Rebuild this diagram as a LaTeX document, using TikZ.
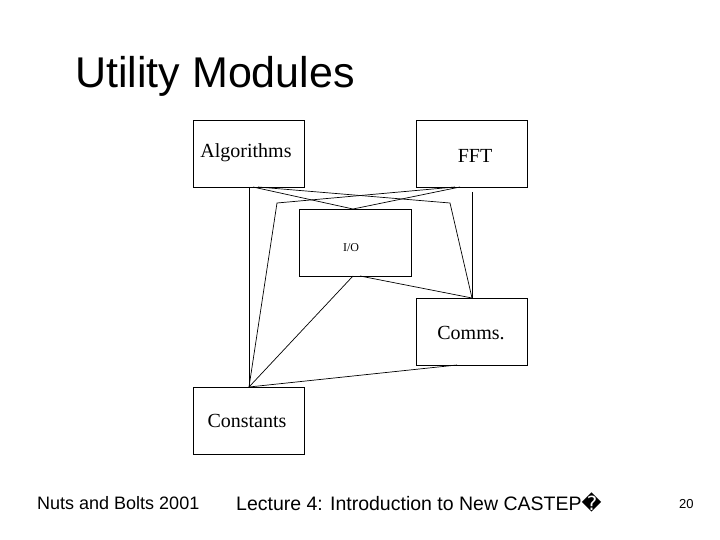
\documentclass[tikz,border=0pt]{standalone}
\usepackage{fontspec}
\setmainfont{Liberation Serif}
\newfontfamily\arial{Liberation Sans}
\newfontfamily\dejavu{DejaVu Sans}
\begin{document}
\begin{tikzpicture}[x=1pt,y=-1pt,
  box/.style={draw,line width=0.8pt},
  ln/.style={line width=0.7pt},
  lab/.style={font=\fontsize{20}{20}\selectfont}]
\useasboundingbox (0,0) rectangle (720,540);
\fill[white] (0,0) rectangle (720,540);
\node[anchor=base west,inner sep=0pt,font=\arial\fontsize{43}{43}\selectfont] (title) at (75,88) {Utility Modules};
\draw[box] (193,120) rectangle (304,187);
\draw[box] (416,120) rectangle (527,187);
\draw[box] (299,209) rectangle (411,276);
\draw[box] (416,298) rectangle (527,365);
\draw[box] (193,387) rectangle (304,454);
\node[lab] (alg) at (246,153) {Algorithms};
\node[lab] (fft) at (475,156) {FFT};
\node[font=\fontsize{12}{12}\selectfont] (io) at (351,248) {I/O};
\node[lab] (com) at (471,333) {Comms.};
\node[lab] (con) at (247,421) {Constants};
\coordinate (a1) at (249,187); \coordinate (a2) at (253,187); \coordinate (a3) at (258,187);
\coordinate (f1) at (460,187); \coordinate (f2) at (455,187);
\coordinate (iot) at (353,209); \coordinate (iob1) at (353,276); \coordinate (iob2) at (360,276);
\coordinate (ct) at (472,298); \coordinate (cb) at (457,365);
\coordinate (kt) at (249,387);
\coordinate (p1) at (450,203); \coordinate (p2) at (277,203);
\draw[ln] (a1) -- (kt);
\draw[ln] (472,192) -- (ct);
\draw[ln] (a2) -- (iot) -- (f1);
\draw[ln] (a3) -- (p1) -- (ct);
\draw[ln] (f2) -- (p2) -- (kt);
\draw[ln] (iob1) -- (kt);
\draw[ln] (iob2) -- (ct);
\draw[ln] (cb) -- (kt);
\node[anchor=base west,inner sep=0pt,font=\arial\fontsize{18}{18}\selectfont] (f1t) at (37,509) {Nuts and Bolts 2001};
\node[anchor=base west,inner sep=0pt,font=\arial\fontsize{19.5}{19.5}\selectfont] (f2t) at (236,510) {Lecture 4: Introduction to New CASTEP{\dejavu �}};
\node[anchor=base west,inner sep=0pt,font=\arial\fontsize{13}{13}\selectfont] (f3t) at (679,508) {20};
\end{tikzpicture}
\end{document}
